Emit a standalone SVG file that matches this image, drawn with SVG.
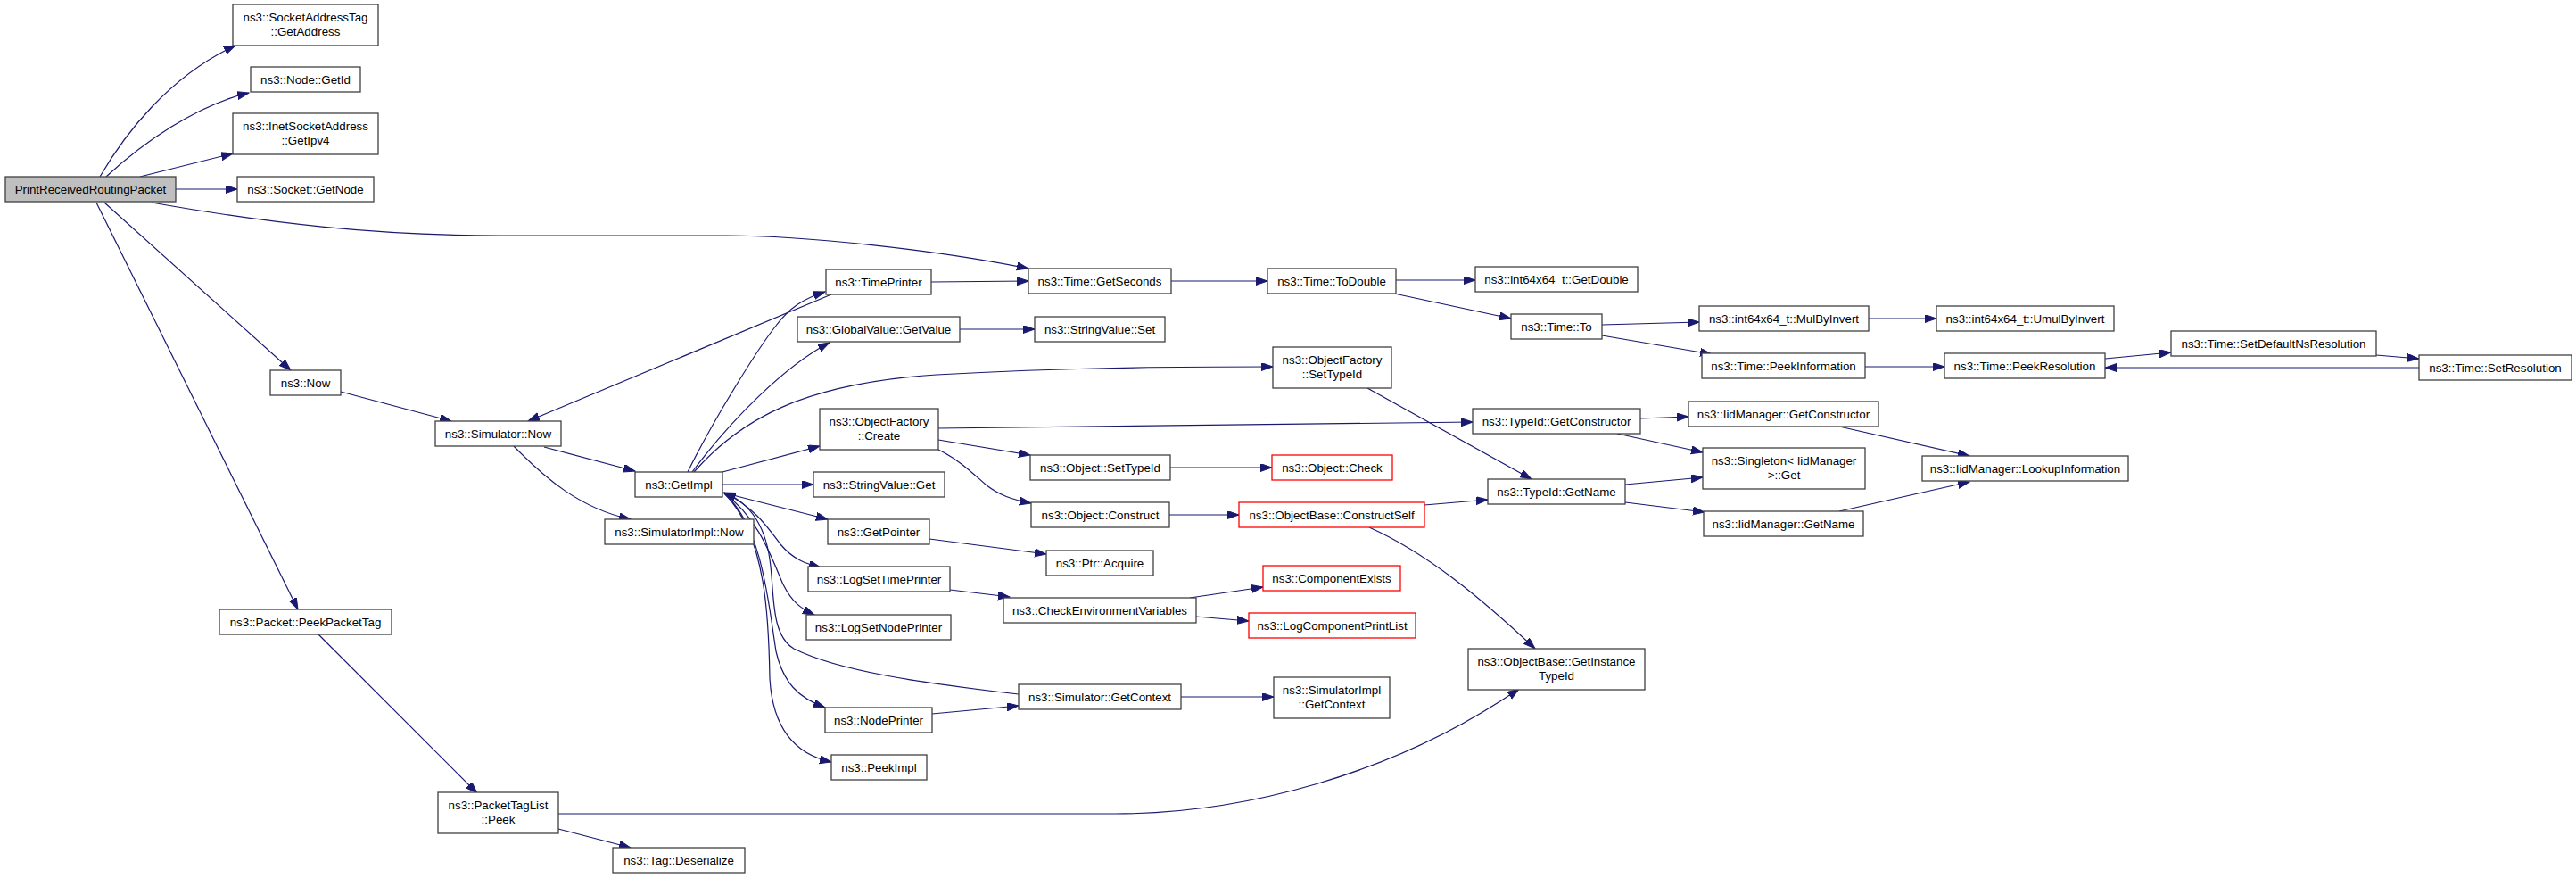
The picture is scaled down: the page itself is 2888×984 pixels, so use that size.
<svg xmlns="http://www.w3.org/2000/svg" width="2888" height="984" viewBox="0 0 2888 984">
<style>
.n rect{fill:#ffffff;stroke:#404040;stroke-width:1.3}
.n.root rect{fill:#bfbfbf}
.n.trunc rect{stroke:#ff0000}
.n text{font-family:"Liberation Sans",Arial,Helvetica,sans-serif;font-size:13.33px;fill:#000000;text-anchor:middle}
#edges path{fill:none;stroke:#191970;stroke-width:1.2;marker-end:url(#arr)}
</style>
<defs>
<marker id="arr" markerUnits="userSpaceOnUse" markerWidth="14" markerHeight="10" refX="13" refY="4.5" orient="auto">
<path d="M0,0 L13,4.5 L0,9 Z" fill="#191970" stroke="#191970" stroke-width="1"/>
</marker>
</defs>
<rect x="0" y="0" width="2888" height="984" fill="#ffffff"/>
<g id="edges">
<path d="M112,198 C140,150 190,85 264,51"/>
<path d="M119,198 C160,160 220,118 279,104"/>
<path d="M157,198 L261,172"/>
<path d="M197,212 L266,212"/>
<path d="M170,227 C300,250 420,264 560,264 L815,264 C900,264 1050,280 1153,301"/>
<path d="M117,227 L326,415"/>
<path d="M108,227 L334,683"/>
<path d="M357,711 L535,889"/>
<path d="M626,929 L707,950"/>
<path d="M626,912 L1250,912 C1390,912 1560,870 1703,772"/>
<path d="M382,439 L506,472"/>
<path d="M932,330 L592,472"/>
<path d="M576,500 C610,535 650,570 707,582"/>
<path d="M610,501 L712,528"/>
<path d="M771,529 C800,470 850,390 870,365 C885,345 900,335 925,327"/>
<path d="M776,529 C820,470 880,410 930,384"/>
<path d="M778,529 C830,470 900,430 1050,420 C1200,412 1300,411 1427,411"/>
<path d="M810,529 L919,500"/>
<path d="M810,543 L912,543"/>
<path d="M810,552 L928,582"/>
<path d="M813,553 C845,568 860,590 875,610 C890,628 905,632 920,636"/>
<path d="M812,553 C850,580 865,625 878,655 C888,675 898,682 913,689"/>
<path d="M812,553 C855,590 862,680 870,730 C878,765 895,782 925,793"/>
<path d="M812,553 C860,600 862,700 863,760 C866,815 890,845 932,854"/>
<path d="M1142,778 C1030,765 940,752 890,727 C865,712 868,670 864,635 C860,595 845,565 812,552"/>
<path d="M1045,800 L1142,791"/>
<path d="M1065,661 L1132,669"/>
<path d="M1042,604 L1173,621"/>
<path d="M1052,493 L1155,510"/>
<path d="M1052,504 C1075,515 1090,530 1105,543 C1120,555 1135,560 1156,564"/>
<path d="M1052,480 L1651,473"/>
<path d="M1312,524 L1426,524"/>
<path d="M1311,577 L1389,577"/>
<path d="M1076,369 L1160,369"/>
<path d="M1044,316 L1153,315"/>
<path d="M1313,315 L1421,315"/>
<path d="M1334,670 L1416,658"/>
<path d="M1341,691 L1400,696"/>
<path d="M1324,781 L1428,781"/>
<path d="M1565,314 L1654,314"/>
<path d="M1563,329 L1694,357"/>
<path d="M1796,364 L1905,361"/>
<path d="M1796,376 L1919,397"/>
<path d="M2095,357 L2171,357"/>
<path d="M2091,411 L2180,411"/>
<path d="M1533,435 L1717,537"/>
<path d="M1839,469 L1893,467"/>
<path d="M1813,486 L1909,507"/>
<path d="M2062,478 L2208,511"/>
<path d="M1597,566 L1668,560"/>
<path d="M1822,543 L1909,535"/>
<path d="M1822,563 L1911,574"/>
<path d="M2062,573 L2208,540"/>
<path d="M1535,591 C1600,620 1660,670 1721,727"/>
<path d="M2360,402 L2434,395"/>
<path d="M2664,398 L2712,402"/>
<path d="M2712,412 L2360,412"/>
</g>
<g id="n_prrp" class="n root"><rect x="6" y="198" width="191" height="28"/><text x="101.5" y="216.7">PrintReceivedRoutingPacket</text></g>
<g id="n_satag" class="n"><rect x="261" y="5" width="163" height="46"/><text x="342.5" y="23.5">ns3::SocketAddressTag</text><text x="342.5" y="40">::GetAddress</text></g>
<g id="n_nodeid" class="n"><rect x="281" y="75" width="123" height="28"/><text x="342.5" y="93.7">ns3::Node::GetId</text></g>
<g id="n_inet" class="n"><rect x="261" y="127" width="163" height="46"/><text x="342.5" y="145.5">ns3::InetSocketAddress</text><text x="342.5" y="162">::GetIpv4</text></g>
<g id="n_sockgetnode" class="n"><rect x="266" y="198" width="153" height="28"/><text x="342.5" y="216.7">ns3::Socket::GetNode</text></g>
<g id="n_now" class="n"><rect x="303" y="415" width="79" height="28"/><text x="342.5" y="433.7">ns3::Now</text></g>
<g id="n_simnow" class="n"><rect x="488" y="472" width="141" height="28"/><text x="558.5" y="490.7">ns3::Simulator::Now</text></g>
<g id="n_peekpkt" class="n"><rect x="246" y="683" width="193" height="28"/><text x="342.5" y="701.7">ns3::Packet::PeekPacketTag</text></g>
<g id="n_ptlpeek" class="n"><rect x="491" y="888" width="135" height="46"/><text x="558.5" y="906.5">ns3::PacketTagList</text><text x="558.5" y="923">::Peek</text></g>
<g id="n_tagdeser" class="n"><rect x="687" y="950" width="148" height="28"/><text x="761" y="968.7">ns3::Tag::Deserialize</text></g>
<g id="n_timeprinter" class="n"><rect x="926" y="302" width="118" height="28"/><text x="985" y="320.7">ns3::TimePrinter</text></g>
<g id="n_getseconds" class="n"><rect x="1153" y="301" width="160" height="28"/><text x="1233" y="319.7">ns3::Time::GetSeconds</text></g>
<g id="n_gvgetvalue" class="n"><rect x="894" y="355" width="182" height="28"/><text x="985" y="373.7">ns3::GlobalValue::GetValue</text></g>
<g id="n_svset" class="n"><rect x="1160" y="355" width="146" height="28"/><text x="1233" y="373.7">ns3::StringValue::Set</text></g>
<g id="n_ofcreate" class="n"><rect x="919" y="458" width="133" height="46"/><text x="985.5" y="476.5">ns3::ObjectFactory</text><text x="985.5" y="493">::Create</text></g>
<g id="n_objsettypeid" class="n"><rect x="1155" y="510" width="157" height="28"/><text x="1233.5" y="528.7">ns3::Object::SetTypeId</text></g>
<g id="n_getimpl" class="n"><rect x="712" y="529" width="98" height="28"/><text x="761" y="547.7">ns3::GetImpl</text></g>
<g id="n_svget" class="n"><rect x="912" y="529" width="147" height="28"/><text x="985.5" y="547.7">ns3::StringValue::Get</text></g>
<g id="n_objconstruct" class="n"><rect x="1156" y="563" width="155" height="28"/><text x="1233.5" y="581.7">ns3::Object::Construct</text></g>
<g id="n_constructself" class="n trunc"><rect x="1389" y="563" width="208" height="28"/><text x="1493" y="581.7">ns3::ObjectBase::ConstructSelf</text></g>
<g id="n_getpointer" class="n"><rect x="928" y="582" width="114" height="28"/><text x="985" y="600.7">ns3::GetPointer</text></g>
<g id="n_simimplnow" class="n"><rect x="678" y="582" width="167" height="28"/><text x="761.5" y="600.7">ns3::SimulatorImpl::Now</text></g>
<g id="n_ptracquire" class="n"><rect x="1173" y="617" width="120" height="28"/><text x="1233" y="635.7">ns3::Ptr::Acquire</text></g>
<g id="n_logsettime" class="n"><rect x="906" y="635" width="159" height="28"/><text x="985.5" y="653.7">ns3::LogSetTimePrinter</text></g>
<g id="n_compexists" class="n trunc"><rect x="1416" y="634" width="154" height="28"/><text x="1493" y="652.7">ns3::ComponentExists</text></g>
<g id="n_checkenv" class="n"><rect x="1125" y="670" width="216" height="28"/><text x="1233" y="688.7">ns3::CheckEnvironmentVariables</text></g>
<g id="n_logcomplist" class="n trunc"><rect x="1400" y="687" width="187" height="28"/><text x="1493.5" y="705.7">ns3::LogComponentPrintList</text></g>
<g id="n_logsetnode" class="n"><rect x="904" y="689" width="162" height="28"/><text x="985" y="707.7">ns3::LogSetNodePrinter</text></g>
<g id="n_getcontext" class="n"><rect x="1142" y="767" width="182" height="28"/><text x="1233" y="785.7">ns3::Simulator::GetContext</text></g>
<g id="n_nodeprinter" class="n"><rect x="925" y="793" width="120" height="28"/><text x="985" y="811.7">ns3::NodePrinter</text></g>
<g id="n_peekimpl" class="n"><rect x="932" y="846" width="107" height="28"/><text x="985.5" y="864.7">ns3::PeekImpl</text></g>
<g id="n_todouble" class="n"><rect x="1421" y="301" width="144" height="28"/><text x="1493" y="319.7">ns3::Time::ToDouble</text></g>
<g id="n_getdouble" class="n"><rect x="1654" y="299" width="182" height="28"/><text x="1745" y="317.7">ns3::int64x64_t::GetDouble</text></g>
<g id="n_timeto" class="n"><rect x="1694" y="352" width="102" height="28"/><text x="1745" y="370.7">ns3::Time::To</text></g>
<g id="n_mulbyinv" class="n"><rect x="1905" y="343" width="190" height="28"/><text x="2000" y="361.7">ns3::int64x64_t::MulByInvert</text></g>
<g id="n_peekinfo" class="n"><rect x="1908" y="396" width="183" height="28"/><text x="1999.5" y="414.7">ns3::Time::PeekInformation</text></g>
<g id="n_ofsettypeid" class="n"><rect x="1427" y="389" width="133" height="46"/><text x="1493.5" y="407.5">ns3::ObjectFactory</text><text x="1493.5" y="424">::SetTypeId</text></g>
<g id="n_tidgetctor" class="n"><rect x="1651" y="458" width="188" height="28"/><text x="1745" y="476.7">ns3::TypeId::GetConstructor</text></g>
<g id="n_iidgetctor" class="n"><rect x="1893" y="450" width="213" height="28"/><text x="1999.5" y="468.7">ns3::IidManager::GetConstructor</text></g>
<g id="n_objcheck" class="n trunc"><rect x="1426" y="510" width="135" height="28"/><text x="1493.5" y="528.7">ns3::Object::Check</text></g>
<g id="n_singleton" class="n"><rect x="1909" y="502" width="182" height="46"/><text x="2000" y="520.5">ns3::Singleton&lt; IidManager</text><text x="2000" y="537">&gt;::Get</text></g>
<g id="n_tidgetname" class="n"><rect x="1668" y="537" width="154" height="28"/><text x="1745" y="555.7">ns3::TypeId::GetName</text></g>
<g id="n_iidgetname" class="n"><rect x="1910" y="573" width="179" height="28"/><text x="1999.5" y="591.7">ns3::IidManager::GetName</text></g>
<g id="n_getinsttid" class="n"><rect x="1646" y="727" width="198" height="46"/><text x="1745" y="745.5">ns3::ObjectBase::GetInstance</text><text x="1745" y="762">TypeId</text></g>
<g id="n_simimplctx" class="n"><rect x="1428" y="759" width="130" height="46"/><text x="1493" y="777.5">ns3::SimulatorImpl</text><text x="1493" y="794">::GetContext</text></g>
<g id="n_umulbyinv" class="n"><rect x="2171" y="343" width="199" height="28"/><text x="2270.5" y="361.7">ns3::int64x64_t::UmulByInvert</text></g>
<g id="n_peekres" class="n"><rect x="2180" y="396" width="180" height="28"/><text x="2270" y="414.7">ns3::Time::PeekResolution</text></g>
<g id="n_setdefns" class="n"><rect x="2434" y="371" width="230" height="28"/><text x="2549" y="389.7">ns3::Time::SetDefaultNsResolution</text></g>
<g id="n_setres" class="n"><rect x="2712" y="398" width="171" height="28"/><text x="2797.5" y="416.7">ns3::Time::SetResolution</text></g>
<g id="n_lookup" class="n"><rect x="2155" y="511" width="231" height="28"/><text x="2270.5" y="529.7">ns3::IidManager::LookupInformation</text></g>
</svg>
